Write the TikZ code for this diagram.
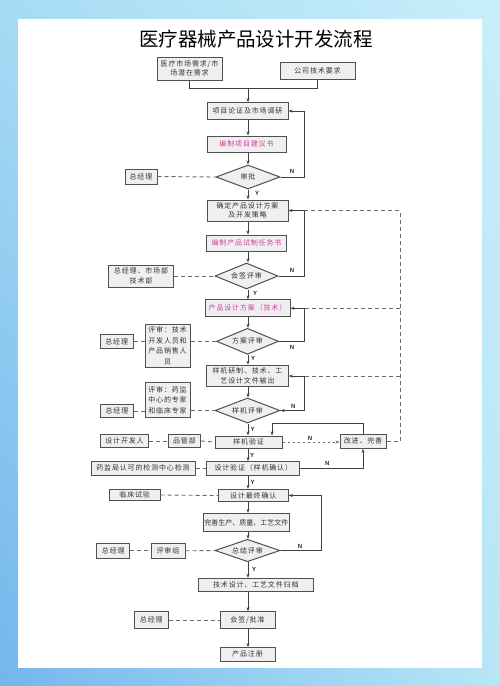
\documentclass[tikz,border=0pt]{standalone}
\usepackage{fontspec}
\newfontfamily\cjk[LetterSpace=12]{Noto Sans CJK SC}
\newfontfamily\cjkn{Noto Sans CJK SC}
\newfontfamily\labf{Liberation Sans}
\usetikzlibrary{shapes.geometric,arrows.meta,calc,shadings}
\definecolor{boxfill}{HTML}{EFEFEF}
\definecolor{boxline}{HTML}{505050}
\definecolor{magtext}{HTML}{D0409C}
\definecolor{dashc}{HTML}{6A6A6A}
\definecolor{linec}{HTML}{404040}
\definecolor{bgUL}{HTML}{A6DCF4}
\definecolor{bgUR}{HTML}{C8EEFA}
\definecolor{bgLL}{HTML}{74B6EC}
\definecolor{bgLR}{HTML}{B8E6F6}
\begin{document}
\begin{tikzpicture}[x=1pt,y=-1pt,
  box/.style={draw=boxline, fill=boxfill, line width=1pt, inner sep=1pt,
    font=\cjk\fontsize{7}{9.5}\selectfont, text=black!80, align=center},
  dia/.style={diamond, aspect=2.6, draw=boxline, fill=boxfill, line width=1pt,
    inner sep=0pt, font=\cjk\fontsize{7}{9}\selectfont, text=black!80},
  arr/.style={draw=linec, line width=0.6pt, -{Stealth[length=4pt,width=3pt]}},
  ln/.style={draw=linec, line width=0.6pt},
  dsh/.style={draw=dashc, line width=0.9pt, dash pattern=on 4pt off 3pt},
  dd/.style={draw=dashc, line width=0.9pt, dash pattern=on 2.5pt off 2.5pt, -{Stealth[length=4pt,width=3pt]}},
  lab/.style={font=\labf\bfseries\fontsize{6}{6}\selectfont, text=black!85, inner sep=0pt},
]
% background
\shade[upper left=bgUL, upper right=bgUR, lower left=bgLL, lower right=bgLR] (0,0) rectangle (500,686);
\fill[white] (18,19) rectangle (482,668);
\useasboundingbox (0,0) rectangle (500,686);

\node[inner sep=0pt] (title) at (256,39.5) {\cjkn\fontsize{19.5}{20}\selectfont 医疗器械产品设计开发流程};

% main column
\node[box, minimum width=65pt, minimum height=23pt] (A) at (189.5,68.5) {医疗市场需求/市\\场潜在需求};
\node[box, minimum width=75pt, minimum height=17pt] (B) at (317.5,70.5) {公司技术要求};
\node[box, minimum width=81pt, minimum height=16.5pt] (C) at (247.5,111) {项目论证及市场调研};
\node[box, minimum width=79pt, minimum height=16pt, text=magtext] (D) at (246.5,144) {编制项目建议书};
\node[dia, minimum width=64pt, minimum height=24pt] (d1) at (248,177) {审批};
\node[box, minimum width=32pt, minimum height=15pt] (g1) at (141,176.5) {总经理};
\node[box, minimum width=81pt, minimum height=21pt] (E) at (247.5,210.5) {确定产品设计方案\\及开发策略};
\node[box, minimum width=80pt, minimum height=16pt, text=magtext] (F) at (246.5,243) {编制产品试制任务书};
\node[dia, minimum width=63pt, minimum height=26pt] (d2) at (246.5,276) {会签评审};
\node[box, minimum width=65pt, minimum height=22pt] (g2) at (141,276) {总经理、市场部\\技术部};
\node[box, minimum width=85pt, minimum height=16.7pt, text=magtext] (G) at (247.5,308.3) {产品设计方案（技术）};
\node[dia, minimum width=62pt, minimum height=26pt] (d3) at (247.5,341.3) {方案评审};
\node[box, minimum width=45pt, minimum height=43.4pt, font=\cjk\fontsize{7}{10.5}\selectfont] (r1) at (167.5,346) {评审：技术\\开发人员和\\产品销售人\\员};
\node[box, minimum width=33pt, minimum height=14pt] (g3) at (116.7,341.3) {总经理};
\node[box, minimum width=81.6pt, minimum height=21.7pt] (H) at (247.5,376) {样机研制、技术、工\\艺设计文件输出};
\node[dia, minimum width=65pt, minimum height=25pt] (d4) at (247.5,410.5) {样机评审};
\node[box, minimum width=45pt, minimum height=35.4pt, font=\cjk\fontsize{7}{10.5}\selectfont] (r2) at (167.5,400) {评审：药监\\中心的专家\\和临床专家};
\node[box, minimum width=33pt, minimum height=13pt] (g4) at (117,411) {总经理};
\node[box, minimum width=67pt, minimum height=12pt] (I) at (248.6,442) {样机验证};
\node[box, minimum width=32pt, minimum height=13.4pt] (qa) at (184.5,441) {品管部};
\node[box, minimum width=48pt, minimum height=13.4pt] (dev) at (124.5,441) {设计开发人};
\node[box, minimum width=46pt, minimum height=14pt] (J) at (363,441.3) {改进、完善};
\node[box, minimum width=93pt, minimum height=13.4pt] (K) at (253.3,468.3) {设计验证（样机确认）};
\node[box, minimum width=104pt, minimum height=13.4pt] (lab1) at (143,468.3) {药监局认可的检测中心检测};
\node[box, minimum width=70pt, minimum height=12.4pt] (L) at (253.3,495.5) {设计最终确认};
\node[box, minimum width=51pt, minimum height=10.5pt] (clin) at (134.7,495) {临床试验};
\node[box, minimum width=86pt, minimum height=18.4pt, font=\cjkn\fontsize{7}{9}\selectfont] (M) at (246.3,522.5) {完善生产、质量、工艺文件};
\node[dia, minimum width=65pt, minimum height=22.4pt] (d5) at (247.5,550.5) {总结评审};
\node[box, minimum width=34pt, minimum height=15pt] (rg) at (168,550.8) {评审组};
\node[box, minimum width=33pt, minimum height=15pt] (g5) at (113.3,550.8) {总经理};
\node[box, minimum width=115pt, minimum height=13.4pt] (N) at (255.8,585) {技术设计、工艺文件归档};
\node[box, minimum width=55pt, minimum height=16.6pt] (O) at (247.5,620) {会签/批准};
\node[box, minimum width=34pt, minimum height=16.6pt] (g6) at (151.3,620) {总经理};
\node[box, minimum width=55pt, minimum height=13.4pt] (P) at (247.5,654.3) {产品注册};

% helper coordinates
\coordinate (sp) at (248,0);
\coordinate (x1) at (304.5,0);
\coordinate (x2) at (321,0);
\coordinate (bus) at (400,0);
\coordinate (m) at (248,88);
\coordinate (jl) at (272,423);

% top merge
\draw[ln] (A.south) |- (m);
\draw[ln] (B.south) |- (m);
\draw[arr] (m) -- (C.north -| m);

% spine arrows
\draw[arr] (C.south -| sp) -- (D.north -| sp);
\draw[arr] (D.south -| sp) -- (d1.north -| sp);
\draw[arr] (d1.south -| sp) -- (E.north -| sp);
\draw[arr] (E.south -| sp) -- (F.north -| sp);
\draw[arr] (F.south -| sp) -- (d2.north -| sp);
\draw[arr] (d2.south -| sp) -- (G.north -| sp);
\draw[arr] (G.south -| sp) -- (d3.north -| sp);
\draw[arr] (d3.south -| sp) -- (H.north -| sp);
\draw[arr] (H.south -| sp) -- (d4.north -| sp);
\draw[arr] (d4.south -| sp) -- (I.north -| sp);
\draw[arr] (I.south -| sp) -- (K.north -| sp);
\draw[arr] (K.south -| sp) -- (L.north -| sp);
\draw[arr] (L.south -| sp) -- (M.north -| sp);
\draw[arr] (M.south -| sp) -- (d5.north -| sp);
\draw[arr] (d5.south -| sp) -- (N.north -| sp);
\draw[arr] (N.south -| sp) -- (O.north -| sp);
\draw[arr] (O.south -| sp) -- (P.north -| sp);

% N loops
\draw[arr] (d1.east) -- (d1.east -| x1) -- (C.east -| x1) -- (C.east);
\draw[arr] (d2.east) -- (d2.east -| x1) -- (E.east -| x1) -- (E.east);
\draw[arr] (d3.east) -- (d3.east -| x1) -- (G.east -| x1) -- (G.east);
\draw[arr] (H.east -| x1) -- (H.east);
\draw[arr] (H.east -| x1) -- (d4.east -| x1) -- (d4.east);
\draw[arr] (d5.east) -- (d5.east -| x2) -- (L.east -| x2) -- (L.east);

% dashed bus on the right
\draw[dsh] (J.east) -- (J.east -| bus) -- (E.east -| bus) -- (E.east -| x1);
\draw[dsh] (G.east -| bus) -- (G.east -| x1);
\draw[dsh] (H.east -| bus) -- (H.east -| x1);

% improvement loop
\draw[dd] (I.east) -- (J.west |- I.east);
\draw[arr] (J.north) |- (jl) -- (jl |- I.north);
\draw[arr] (K.east) -| (J.south);

% side dashed links
\draw[dsh] (g1.east) -- (d1.west);
\draw[dsh] (g2.east) -- (d2.west);
\draw[dsh] (g3.east) -- (r1.west |- g3.east);
\draw[dsh] (r1.east |- d3.west) -- (d3.west);
\draw[dsh] (g4.east) -- (r2.west |- g4.east);
\draw[dsh] (r2.east |- d4.west) -- (d4.west);
\draw[dsh] (dev.east) -- (qa.west);
\draw[dsh] (qa.east) -- (I.west);
\draw[dsh] (lab1.east) -- (K.west);
\draw[dsh] (clin.east) -- (L.west);
\draw[dsh] (g5.east) -- (rg.west);
\draw[dsh] (rg.east) -- (d5.west);
\draw[dsh] (g6.east) -- (O.west);

% Y/N labels
\node[lab] (n1) at (292,171) {N};
\node[lab] (y1) at (257,193) {Y};
\node[lab] (n2) at (292,270) {N};
\node[lab] (y2) at (255,293) {Y};
\node[lab] (n3) at (292,347) {N};
\node[lab] (y3) at (253,358) {Y};
\node[lab] (n4) at (293.3,406.7) {N};
\node[lab] (y4) at (252.7,429) {Y};
\node[lab] (n5) at (310,438) {N};
\node[lab] (y5) at (252,455) {Y};
\node[lab] (n6) at (327.3,463.3) {N};
\node[lab] (y6) at (252.7,482) {Y};
\node[lab] (n7) at (300,546.7) {N};
\node[lab] (y7) at (254,569.3) {Y};
\end{tikzpicture}
\end{document}
